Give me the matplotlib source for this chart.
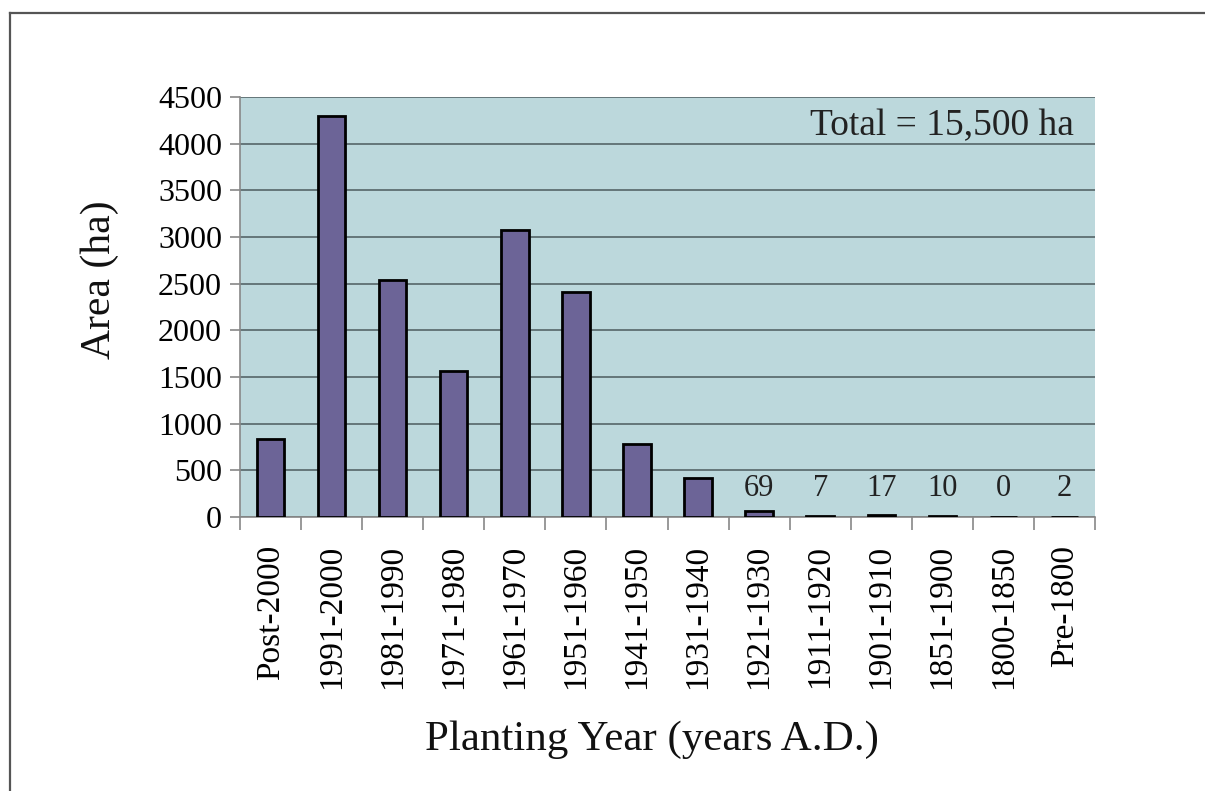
import matplotlib
matplotlib.use('Agg')
import matplotlib.pyplot as plt
from matplotlib.lines import Line2D
import numpy as np

# --- planting area by decade ---
periods = ['Post-2000', '1991-2000', '1981-1990', '1971-1980', '1961-1970',
           '1951-1960', '1941-1950', '1931-1940', '1921-1930', '1911-1920',
           '1901-1910', '1851-1900', '1800-1850', 'Pre-1800']
area_ha = [840, 4300, 2540, 1565, 3075, 2410, 780, 420, 69, 7, 17, 10, 0, 2]
# small values get printed above the axis
labelled = ['1921-1930', '1911-1920', '1901-1910', '1851-1900', '1800-1850', 'Pre-1800']
y_ticks = [0, 500, 1000, 1500, 2000, 2500, 3000, 3500, 4000, 4500]
total_text = 'Total = 15,500 ha'

plt.rcParams['font.family'] = ['Liberation Serif', 'DejaVu Serif']

fig = plt.figure(figsize=(12.05, 7.91), dpi=100)
ax = fig.add_axes([240/1205, 1-517/791, (1095-240)/1205, (517-97)/791])
ax.set_facecolor('#bcd8dc')

x = np.arange(len(periods))
ax.bar(x, area_ha, width=0.45, color='#6c6497', edgecolor='black', linewidth=2, zorder=3)

for p, v in zip(periods, area_ha):
    if p in labelled:
        ax.text(periods.index(p), 310, str(v), ha='center', va='center', fontsize=22, color='#222222', zorder=4)

ax.text(0.975, 0.93, total_text, transform=ax.transAxes, ha='right', va='center', fontsize=27, color='#222222')

ax.set_xlim(-0.5, len(periods) - 0.5)
ax.set_ylim(0, 4500)
ax.set_yticks(y_ticks)
ax.yaxis.grid(True, color='#4d5c5e', linewidth=1.1, zorder=1)
ax.set_axisbelow(True)

ax.set_xticks(x)
ax.set_xticklabels(periods, rotation=90, fontsize=24)
ax.set_xticks(np.arange(len(periods) + 1) - 0.5, minor=True)
ax.tick_params(axis='x', which='major', length=0, pad=20)
ax.tick_params(axis='x', which='minor', length=9, color='#888888', width=1.2)
ax.tick_params(axis='y', length=7, color='#888888', width=1.2, labelsize=23, pad=6)

for s in ['top', 'right']:
    ax.spines[s].set_visible(False)
for s in ['left', 'bottom']:
    ax.spines[s].set_color('#888888')
    ax.spines[s].set_linewidth(1.2)

fig.text(100/1205, 1-280/791, 'Area (ha)', rotation=90, ha='center', va='center', fontsize=30, color='#111111')
fig.text(652/1205, 1-740/791, 'Planting Year (years A.D.)', ha='center', va='center', fontsize=31, color='#111111')

# page frame (top and left edges)
fig.add_artist(Line2D([10/1205, 10/1205], [0, 1-13/791], transform=fig.transFigure, color='#555555', linewidth=1.6))
fig.add_artist(Line2D([10/1205, 1], [1-13/791, 1-13/791], transform=fig.transFigure, color='#555555', linewidth=1.6))

fig.savefig('out.png', dpi=100)
